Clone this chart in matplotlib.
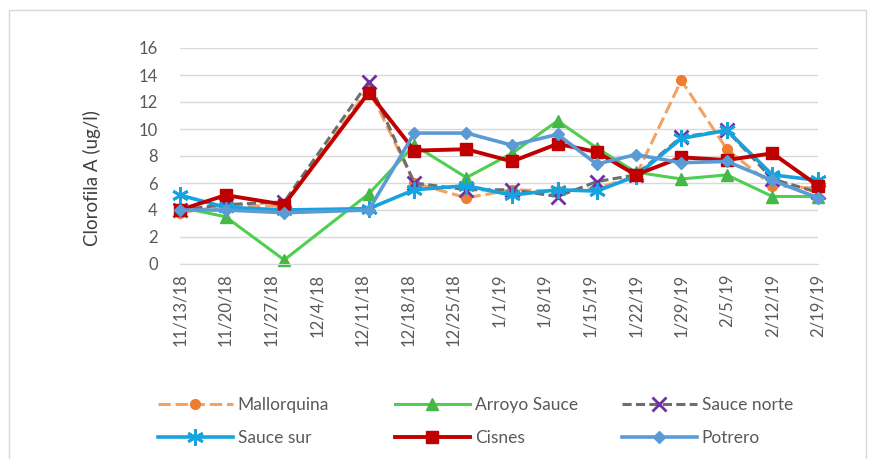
import matplotlib
matplotlib.use("Agg")
import matplotlib.pyplot as plt
import pandas as pd
from matplotlib.lines import Line2D
from matplotlib.patches import Rectangle

plt.rcParams["font.family"] = ["Lato", "DejaVu Sans"]

# Sampling dates and chlorophyll-a readings (ug/l) per site
sample_dates = ["2018-11-13", "2018-11-20", "2018-11-29", "2018-12-12", "2018-12-19",
                "2018-12-27", "2019-01-03", "2019-01-10", "2019-01-16", "2019-01-22",
                "2019-01-29", "2019-02-05", "2019-02-12", "2019-02-19"]
tick_labels = ["11/13/18", "11/20/18", "11/27/18", "12/4/18", "12/11/18", "12/18/18",
               "12/25/18", "1/1/19", "1/8/19", "1/15/19", "1/22/19", "1/29/19",
               "2/5/19", "2/12/19", "2/19/19"]
site_names = ["Mallorquina", "Arroyo Sauce", "Sauce norte", "Sauce sur", "Cisnes", "Potrero"]

mallorquina = [3.8, 4.3, 4.3, 13.0, 6.0, 4.9, 5.5, 5.4, 5.6, 6.5, 13.6, 8.5, 5.8, 5.6]
arroyo_sauce = [4.2, 3.5, 0.3, 5.2, 8.8, 6.4, 8.2, 10.6, 8.6, 6.8, 6.3, 6.6, 5.0, 5.0]
sauce_norte = [4.0, 4.4, 4.6, 13.5, 6.0, 5.5, 5.5, 5.0, 6.1, 6.6, 9.4, 9.9, 6.3, 5.3]
sauce_sur = [5.1, 4.2, 4.0, 4.1, 5.5, 5.8, 5.1, 5.5, 5.4, 6.5, 9.3, 9.9, 6.6, 6.2]
cisnes = [4.0, 5.1, 4.4, 12.7, 8.4, 8.5, 7.6, 8.9, 8.3, 6.6, 7.9, 7.7, 8.2, 5.8]
potrero = [4.0, 4.0, 3.8, 4.0, 9.7, 9.7, 8.8, 9.6, 7.4, 8.1, 7.5, 7.6, 6.2, 4.9]

series_values = [mallorquina, arroyo_sauce, sauce_norte, sauce_sur, cisnes, potrero]

styles = [
    dict(color="#F4A261", lw=2.2, dashes=(4, 1.6), marker="o", ms=7,
         mfc="#ED7D31", mec="#ED7D31"),
    dict(color="#4FCF4F", lw=2.2, marker="^", ms=8, mfc="#45B845", mec="#45B845"),
    dict(color="#6E6E6E", lw=2.2, dashes=(3, 1.4), marker="x", ms=10, mew=2,
         mfc="#7030A0", mec="#7030A0"),
    dict(color="#16A3DE", lw=2.6, marker=(6, 2, 0), ms=12, mew=2,
         mfc="#16A3DE", mec="#16A3DE"),
    dict(color="#C00000", lw=2.8, marker="s", ms=8, mfc="#C00000", mec="#C00000"),
    dict(color="#5B9BD5", lw=2.6, marker="D", ms=6, mfc="#5B9BD5", mec="#5B9BD5"),
]

W, H = 879, 459
fig = plt.figure(figsize=(W / 100, H / 100), dpi=100)

# chart area frame
fig.add_artist(Rectangle((9 / W, -0.1), 857 / W, 1.1 - 10 / H, transform=fig.transFigure,
                         fill=False, ec="#D9D9D9", lw=1))

ax = fig.add_axes([180 / W, 1 - 264 / H, 638 / W, 216 / H])

x = pd.to_datetime(sample_dates)
for name, vals, st in zip(site_names, series_values, styles):
    ax.plot(x, vals, label=name, clip_on=False, solid_capstyle="round", **st)

ticks = pd.to_datetime(tick_labels, format="%m/%d/%y")
ax.set_xlim(ticks[0], ticks[-1])
ax.set_xticks(ticks)
ax.set_xticklabels(tick_labels, rotation=90, fontsize=12, color="#595959")
ax.set_ylim(0, 16)
ax.set_yticks(range(0, 17, 2))
ax.set_yticklabels([str(v) for v in range(0, 17, 2)], fontsize=12, color="#595959")
ax.tick_params(axis="y", length=0, pad=16)
ax.tick_params(axis="x", length=0, pad=7)

ax.yaxis.grid(True, color="#D9D9D9", lw=1)
ax.set_axisbelow(True)
for side in ("top", "right", "left"):
    ax.spines[side].set_visible(False)
ax.spines["bottom"].set_color("#D9D9D9")

fig.text(92 / W, 1 - 178 / H, "Clorofila A (ug/l)", rotation=90, ha="center", va="center",
         fontsize=13.5, color="#404040")

# legend laid out as a 3 x 2 grid
legend_pos = [(158, 405), (395, 405), (622, 405), (158, 438), (395, 438), (622, 438)]
for name, st, (lx, ly) in zip(site_names, styles, legend_pos):
    handle = Line2D([], [], **st)
    fig.legend(handles=[handle], labels=[name], loc="center left",
               bbox_to_anchor=(lx / W, 1 - ly / H), frameon=False, borderpad=0,
               borderaxespad=0, handlelength=4.3, handletextpad=0.3, fontsize=12.5,
               labelcolor="#595959", numpoints=1)

fig.savefig("out.png", dpi=100)
